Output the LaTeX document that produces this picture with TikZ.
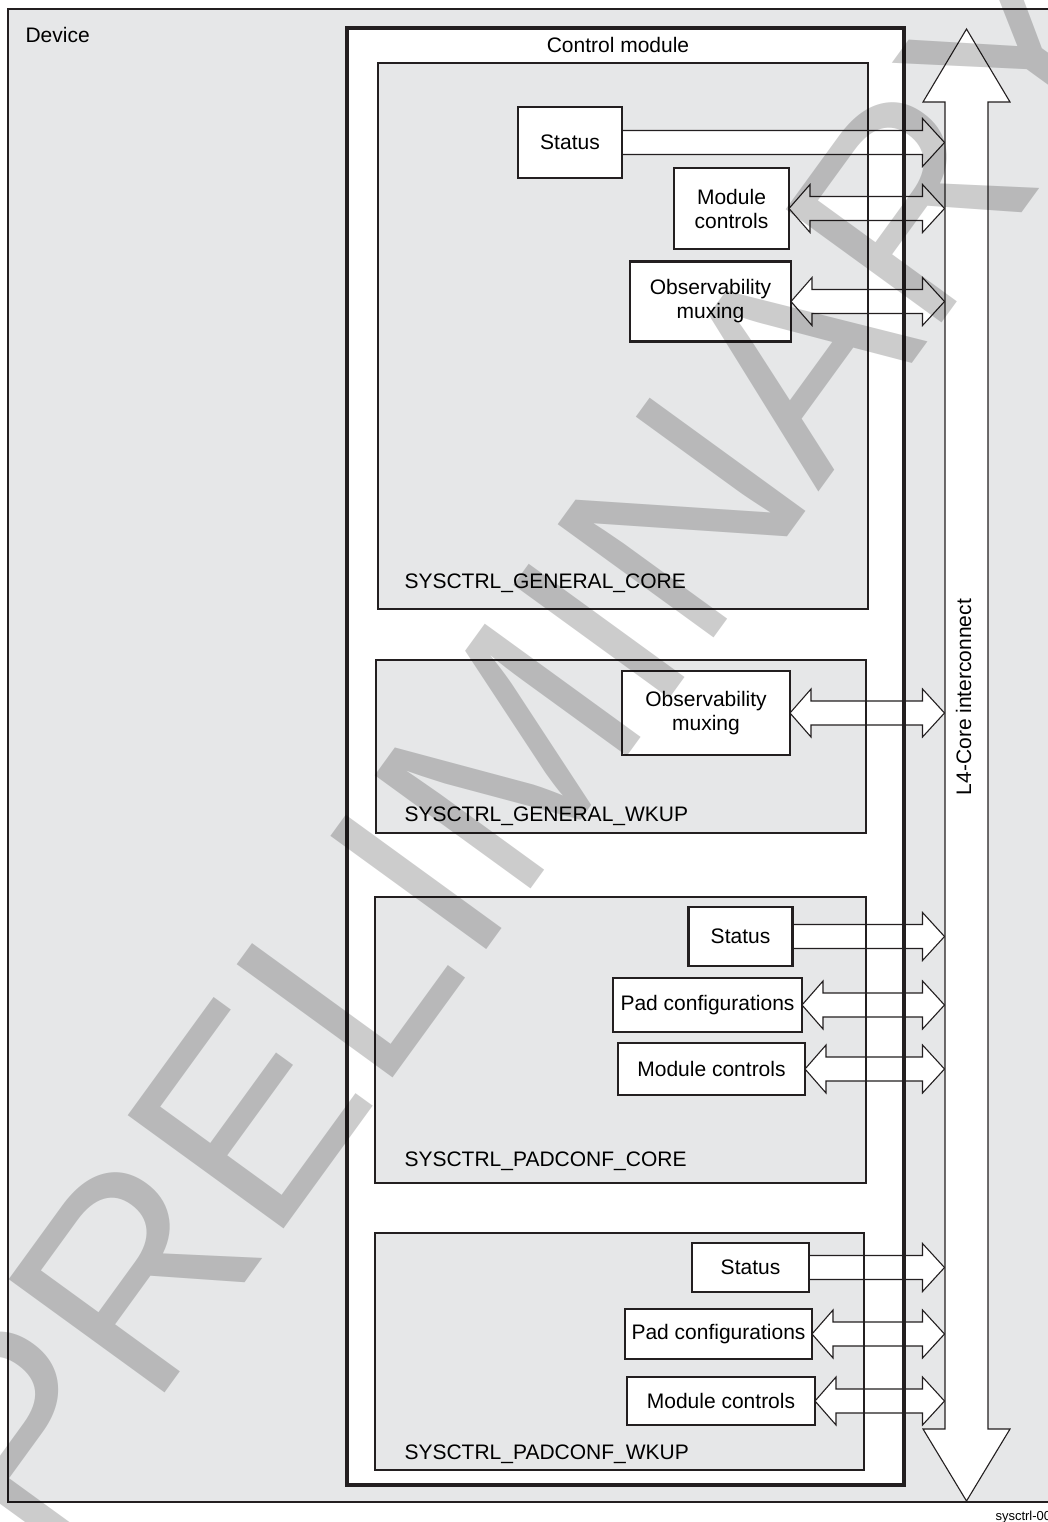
\documentclass[tikz,border=0pt]{standalone}
\usepackage{fontspec}
\setmainfont{Liberation Sans}
\usetikzlibrary{calc}

\definecolor{devgray}{RGB}{230,231,232}
\definecolor{ink}{RGB}{35,31,32}

\pgfdeclarelayer{fills}
\pgfdeclarelayer{pipes}
\pgfdeclarelayer{stamp}
\pgfsetlayers{fills,pipes,main,stamp}

% one-way block arrow from #1 to the tip #2
\newcommand{\onearrow}[2]{%
  \filldraw[pipe] ($(#1)+(0,-12)$) -- ($(#2)+(-22,-12)$) -- ($(#2)+(-22,-24)$) -- (#2)
    -- ($(#2)+(-22,24)$) -- ($(#2)+(-22,12)$) -- ($(#1)+(0,12)$) -- cycle;}
% two-way block arrow between the tips #1 and #2
\newcommand{\twoarrow}[2]{%
  \filldraw[pipe] (#1) -- ($(#1)+(21,-24)$) -- ($(#1)+(21,-12)$) -- ($(#2)+(-22,-12)$)
    -- ($(#2)+(-22,-24)$) -- (#2) -- ($(#2)+(-22,24)$) -- ($(#2)+(-22,12)$)
    -- ($(#1)+(21,12)$) -- ($(#1)+(21,24)$) -- cycle;}

\begin{document}
\begin{tikzpicture}[x=1pt,y=-1pt,font=\fontsize{21}{24}\selectfont,
  blockbox/.style={draw=ink,fill=white,line width=2.2pt,inner sep=0pt,outer sep=0pt,align=center},
  pipe/.style={draw=ink,fill=white,line width=1.1pt},
  sysframe/.style={draw=ink,line width=2.4pt}]
\useasboundingbox (0,0) rectangle (1047,1522);

\coordinate (dev1) at (8,9);     \coordinate (dev2) at (1070,1502);
\coordinate (cm1) at (347,28);   \coordinate (cm2) at (904,1485);
\coordinate (gc1) at (378,63);   \coordinate (gc2) at (868,609);
\coordinate (gw1) at (376,660);  \coordinate (gw2) at (866,833);
\coordinate (pc1) at (375,897);  \coordinate (pc2) at (866,1183);
\coordinate (pw1) at (375,1233); \coordinate (pw2) at (864,1470);
\coordinate (bus) at (944.5,0);

\begin{pgfonlayer}{fills}
\fill[devgray] (dev1) rectangle (dev2);
\fill[white] (cm1) rectangle (cm2);
\foreach \b in {gc,gw,pc,pw}
  \fill[devgray] (\b1) rectangle (\b2);
\end{pgfonlayer}

\draw[draw=ink,line width=2pt] (dev1) rectangle (dev2);
\draw[draw=ink,line width=3.6pt] (cm1) rectangle (cm2);
\foreach \b in {gc,gw,pc,pw}
  \draw[sysframe] (\b1) rectangle (\b2);

\node[anchor=base west] (devlab) at (22,43) {Device};
\node[anchor=base] (cmlab) at (618,53) {Control module};
\node[anchor=base west] (gclab) at (401,588) {SYSCTRL\_GENERAL\_CORE};
\node[anchor=base west] (gwlab) at (401,821) {SYSCTRL\_GENERAL\_WKUP};
\node[anchor=base west] (pclab) at (401,1166) {SYSCTRL\_PADCONF\_CORE};
\node[anchor=base west] (pwlab) at (401,1459) {SYSCTRL\_PADCONF\_WKUP};

% SYSCTRL_GENERAL_CORE
\node[blockbox,minimum width=104,minimum height=71] (gcs) at (570,142.5) {Status};
\node[blockbox,minimum width=115,minimum height=81] (gcm) at (731.5,208.5) {Module\\controls};
\node[blockbox,minimum width=161,minimum height=80] (gco) at (710.5,301.5) {Observability\\muxing};
% SYSCTRL_GENERAL_WKUP
\node[blockbox,minimum width=168,minimum height=84] (gwo) at (706,713) {Observability\\muxing};
% SYSCTRL_PADCONF_CORE
\node[blockbox,minimum width=104,minimum height=59] (pcs) at (740.5,936.5) {Status};
\node[blockbox,minimum width=189,minimum height=54] (pcp) at (707.5,1005) {Pad configurations};
\node[blockbox,minimum width=187,minimum height=52] (pcm) at (711.5,1069) {Module controls};
% SYSCTRL_PADCONF_WKUP
\node[blockbox,minimum width=117,minimum height=49] (pws) at (750.5,1267.5) {Status};
\node[blockbox,minimum width=187,minimum height=50] (pwp) at (718.5,1334) {Pad configurations};
\node[blockbox,minimum width=188,minimum height=48] (pwm) at (721,1401) {Module controls};

\begin{pgfonlayer}{pipes}
\onearrow{gcs.east}{gcs.east -| bus}
\twoarrow{gcm.east}{gcm.east -| bus}
\twoarrow{gco.east}{gco.east -| bus}
\twoarrow{gwo.east}{gwo.east -| bus}
\onearrow{pcs.east}{pcs.east -| bus}
\twoarrow{pcp.east}{pcp.east -| bus}
\twoarrow{pcm.east}{pcm.east -| bus}
\onearrow{pws.east}{pws.east -| bus}
\twoarrow{pwp.east}{pwp.east -| bus}
\twoarrow{pwm.east}{pwm.east -| bus}
\end{pgfonlayer}

% L4 interconnect
\coordinate (l4top) at (966.5,29);
\coordinate (l4bot) at (966.5,1501);
\draw[pipe] (l4top) -- (1010,102) -- (988,102) -- (988,1429) -- (1010,1429) -- (l4bot)
  -- (923,1429) -- (945,1429) -- (945,102) -- (923,102) -- cycle;
\node[rotate=90,anchor=base] (l4lab) at (971,697) {L4-Core interconnect};

\node[anchor=base west,font=\fontsize{13}{15}\selectfont] (figid) at (992,1520) {sysctrl-00};

\begin{pgfonlayer}{stamp}
\node[rotate=54,text=black,text opacity=0.2,font=\fontsize{280}{280}\selectfont] (wmark) at (520,740) {PRELIMINARY};
\end{pgfonlayer}
\end{tikzpicture}
\end{document}
